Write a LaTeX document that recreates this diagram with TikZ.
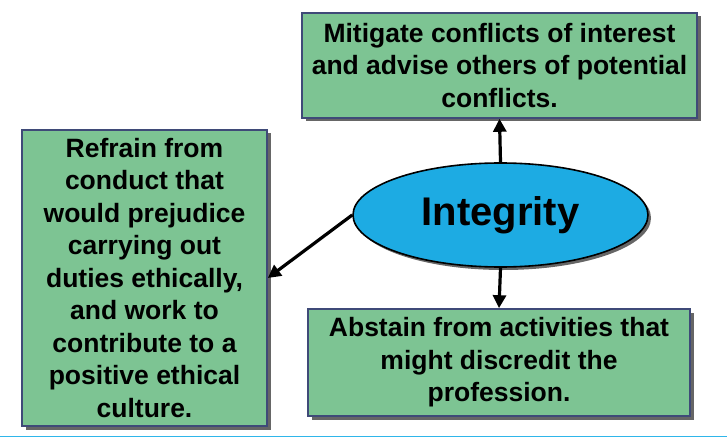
\documentclass[tikz,border=0pt]{standalone}
\usepackage{fontspec}
\setmainfont{Liberation Sans}
\usetikzlibrary{shapes.geometric,shadows,arrows.meta}
\definecolor{boxgreen}{HTML}{7DC493}
\definecolor{boxedge}{HTML}{3F4A78}
\definecolor{ellblue}{HTML}{1DABE3}
\definecolor{lineblue}{HTML}{2FB6EA}
\tikzset{
  gbox/.style={draw=boxedge, line width=1.6pt, fill=boxgreen, align=center, inner sep=0pt,
    font=\fontsize{26.5}{32.5}\selectfont\bfseries,
    drop shadow={shadow xshift=3.5pt, shadow yshift=-3.5pt, opacity=0.75, fill=black!80}},
  ell/.style={ellipse, draw=black, line width=1.6pt, fill=ellblue, inner sep=0pt,
    font=\fontsize{40}{44}\selectfont\bfseries,
    drop shadow={shadow xshift=3pt, shadow yshift=-3pt, opacity=0.6, fill=black}},
  conn/.style={line width=3.2pt, -{Triangle[length=13pt,width=13pt]}}
}
\begin{document}
\begin{tikzpicture}[x=1pt,y=-1pt]
\useasboundingbox (0,0) rectangle (727,438);
\draw[lineblue, line width=1.6pt] (0,436.5) -- (727,436.5);
\node[gbox, minimum width=395pt, minimum height=105pt] (top) at (499.5,65.5)
  {Mitigate conflicts of interest\\and advise others of potential\\conflicts.};
\node[gbox, minimum width=245pt, minimum height=296pt] (left) at (144.5,278)
  {Refrain from\\conduct that\\would prejudice\\carrying out\\duties ethically,\\and work to\\contribute to a\\positive ethical\\culture.};
\node[gbox, minimum width=382pt, minimum height=107pt] (bot) at (499,362.5)
  {Abstain from activities that\\might discredit the\\profession.};
\node[ell, minimum width=295pt, minimum height=104pt] (int) at (500.5,215) {Integrity};
\draw[conn] (int.north) -- (top.south);
\draw[conn] (int.south) -- (bot.north);
\draw[conn] (int.west) -- (left.east);
\end{tikzpicture}
\end{document}
